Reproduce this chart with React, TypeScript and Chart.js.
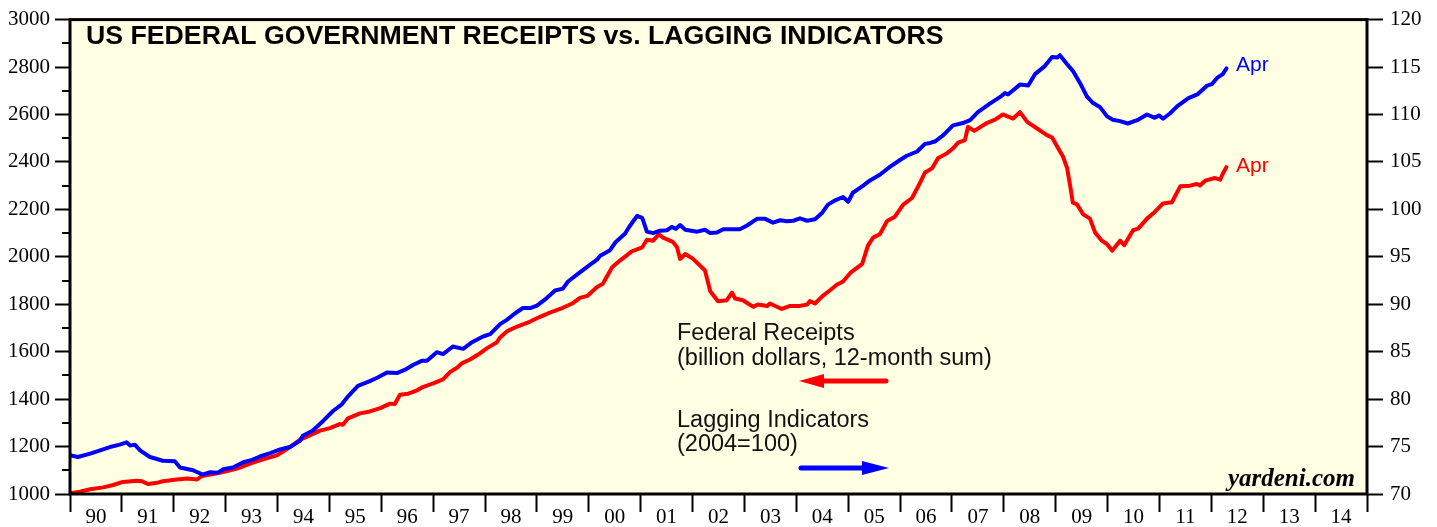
import React, { useEffect, useRef } from "react";
import { Chart, registerables } from "chart.js";

Chart.register(...registerables);

const yearLabels = ["90", "91", "92", "93", "94", "95", "96", "97", "98", "99", "00", "01", "02", "03", "04", "05", "06", "07", "08", "09", "10", "11", "12", "13", "14"];

// Federal receipts (billion dollars, 12-month sum), left axis
const receiptsYears = [
  1990.00, 1990.19, 1990.39, 1990.64, 1990.83, 1991.02, 1991.29, 1991.39, 1991.50, 1991.68,
  1991.79, 1992.06, 1992.26, 1992.45, 1992.54, 1992.76, 1992.95, 1993.22, 1993.47, 1993.72,
  1993.99, 1994.24, 1994.43, 1994.82, 1995.01, 1995.20, 1995.26, 1995.36, 1995.59, 1995.78,
  1995.98, 1996.17, 1996.26, 1996.36, 1996.52, 1996.69, 1996.80, 1997.00, 1997.19, 1997.33,
  1997.46, 1997.56, 1997.71, 1997.86, 1998.04, 1998.23, 1998.29, 1998.42, 1998.48, 1998.62,
  1998.87, 1999.06, 1999.25, 1999.50, 1999.68, 1999.83, 1999.97, 2000.16, 2000.27, 2000.45,
  2000.60, 2000.83, 2001.03, 2001.12, 2001.24, 2001.35, 2001.43, 2001.62, 2001.70, 2001.76,
  2001.86, 2002.01, 2002.24, 2002.34, 2002.49, 2002.66, 2002.76, 2002.82, 2002.97, 2003.17,
  2003.26, 2003.44, 2003.49, 2003.72, 2003.88, 2004.07, 2004.21, 2004.26, 2004.36, 2004.51,
  2004.65, 2004.78, 2004.90, 2005.04, 2005.27, 2005.38, 2005.48, 2005.61, 2005.75, 2005.90,
  2006.06, 2006.23, 2006.38, 2006.48, 2006.52, 2006.62, 2006.73, 2006.90, 2007.02, 2007.12,
  2007.25, 2007.31, 2007.43, 2007.68, 2007.83, 2007.98, 2008.18, 2008.31, 2008.45, 2008.64,
  2008.83, 2008.93, 2009.03, 2009.14, 2009.22, 2009.28, 2009.33, 2009.41, 2009.53, 2009.66,
  2009.76, 2009.89, 2009.99, 2010.09, 2010.24, 2010.32, 2010.49, 2010.59, 2010.76, 2010.91,
  2011.07, 2011.24, 2011.40, 2011.59, 2011.72, 2011.78, 2011.88, 2012.07, 2012.17, 2012.22,
  2012.29,
];
const receiptsValues = [
  1003, 1010, 1020, 1028, 1038, 1051, 1056, 1054, 1042, 1047,
  1054, 1061, 1065, 1061, 1076, 1084, 1093, 1107, 1128, 1146,
  1163, 1198, 1228, 1267, 1278, 1295, 1292, 1319, 1340, 1348,
  1362, 1381, 1379, 1418, 1423, 1437, 1451, 1466, 1483, 1515,
  1532, 1552, 1567, 1587, 1615, 1640, 1660, 1685, 1692, 1706,
  1727, 1747, 1765, 1785, 1803, 1827, 1835, 1873, 1886, 1956,
  1984, 2023, 2040, 2072, 2068, 2095, 2081, 2063, 2040, 1991,
  2012, 1991, 1942, 1855, 1813, 1817, 1849, 1824, 1817, 1789,
  1799, 1793, 1803, 1780, 1793, 1793, 1799, 1813, 1803, 1835,
  1859, 1882, 1896, 1932, 1970, 2047, 2081, 2095, 2151, 2169,
  2220, 2248, 2310, 2356, 2360, 2374, 2415, 2436, 2457, 2481,
  2492, 2548, 2531, 2565, 2578, 2600, 2583, 2610, 2569, 2541,
  2513, 2503, 2464, 2423, 2374, 2297, 2228, 2221, 2179, 2161,
  2102, 2068, 2053, 2026, 2068, 2049, 2112, 2119, 2161, 2189,
  2225, 2230, 2297, 2300, 2307, 2301, 2321, 2332, 2325, 2350,
  2378,
];

// Lagging indicators (2004=100), right axis
const laggingYears = [
  1990.00, 1990.15, 1990.39, 1990.58, 1990.77, 1990.96, 1991.09, 1991.16, 1991.25, 1991.35,
  1991.54, 1991.79, 1992.02, 1992.12, 1992.37, 1992.56, 1992.70, 1992.85, 1992.95, 1993.14,
  1993.34, 1993.51, 1993.66, 1993.86, 1994.05, 1994.24, 1994.43, 1994.49, 1994.68, 1994.88,
  1995.07, 1995.24, 1995.36, 1995.55, 1995.78, 1995.94, 1996.11, 1996.30, 1996.46, 1996.61,
  1996.79, 1996.88, 1997.07, 1997.19, 1997.38, 1997.58, 1997.75, 1997.96, 1998.10, 1998.29,
  1998.42, 1998.58, 1998.73, 1998.87, 1999.00, 1999.19, 1999.35, 1999.50, 1999.60, 1999.79,
  2000.02, 2000.16, 2000.22, 2000.41, 2000.51, 2000.70, 2000.79, 2000.93, 2001.03, 2001.12,
  2001.24, 2001.37, 2001.51, 2001.60, 2001.68, 2001.76, 2001.86, 2002.09, 2002.24, 2002.34,
  2002.47, 2002.59, 2002.91, 2003.05, 2003.24, 2003.40, 2003.55, 2003.69, 2003.82, 2003.94,
  2004.07, 2004.21, 2004.36, 2004.50, 2004.61, 2004.75, 2004.90, 2005.00, 2005.09, 2005.29,
  2005.42, 2005.61, 2005.81, 2006.00, 2006.13, 2006.33, 2006.48, 2006.58, 2006.67, 2006.83,
  2007.02, 2007.21, 2007.35, 2007.50, 2007.73, 2007.93, 2008.02, 2008.08, 2008.31, 2008.47,
  2008.60, 2008.79, 2008.93, 2009.03, 2009.08, 2009.22, 2009.33, 2009.47, 2009.60, 2009.72,
  2009.85, 2009.99, 2010.10, 2010.24, 2010.39, 2010.57, 2010.76, 2010.91, 2010.99, 2011.07,
  2011.20, 2011.34, 2011.55, 2011.74, 2011.92, 2012.01, 2012.11, 2012.22, 2012.29,
];
const laggingValues = [
  74.1, 73.9, 74.25, 74.6, 74.95, 75.2, 75.45, 75.1, 75.2, 74.6,
  73.9, 73.5, 73.45, 72.8, 72.5, 72.05, 72.3, 72.25, 72.6, 72.8,
  73.35, 73.6, 73.95, 74.3, 74.7, 74.95, 75.6, 76.15, 76.7, 77.7,
  78.75, 79.45, 80.3, 81.4, 81.9, 82.3, 82.8, 82.75, 83.1, 83.6,
  84.05, 84.05, 84.95, 84.75, 85.55, 85.3, 86.0, 86.6, 86.85, 87.9,
  88.35, 89.05, 89.6, 89.6, 89.85, 90.65, 91.45, 91.65, 92.4, 93.2,
  94.15, 94.7, 95.1, 95.7, 96.5, 97.45, 98.25, 99.3, 99.1, 97.65,
  97.5, 97.75, 97.8, 98.15, 97.95, 98.35, 97.85, 97.65, 97.85, 97.5,
  97.55, 97.9, 97.9, 98.3, 99.0, 99.0, 98.6, 98.85, 98.75, 98.8,
  99.05, 98.8, 98.95, 99.65, 100.5, 100.95, 101.3, 100.8, 101.75, 102.5,
  103.05, 103.65, 104.5, 105.2, 105.65, 106.1, 106.9, 107.0, 107.15, 107.8,
  108.85, 109.1, 109.4, 110.25, 111.15, 111.85, 112.25, 112.1, 113.15, 113.05,
  114.25, 115.1, 116.05, 116.0, 116.25, 115.3, 114.6, 113.3, 111.9, 111.2,
  110.8, 109.8, 109.45, 109.3, 109.05, 109.4, 110.0, 109.65, 109.9, 109.55,
  110.1, 110.85, 111.7, 112.15, 113.05, 113.2, 113.85, 114.25, 114.85,
];

const SERIF = '"Liberation Serif", "Times New Roman", serif';
const SANS = '"Liberation Sans", Arial, Helvetica, sans-serif';

export default function App() {
  const ref = useRef<HTMLCanvasElement>(null);

  useEffect(() => {
    document.body.style.margin = "0";
    document.body.style.overflow = "hidden";
    if (!ref.current) return;

    const decor = {
      id: "decor",
      beforeDraw(chart: any) {
        const { ctx, chartArea: a } = chart;
        ctx.save();
        ctx.fillStyle = "#FFFFE3";
        ctx.fillRect(a.left, a.top, a.right - a.left, a.bottom - a.top);
        ctx.restore();
      },
      afterDraw(chart: any) {
        const { ctx, chartArea: a } = chart;
        const yl = chart.scales.y;
        ctx.save();
        // minor ticks on the left axis
        ctx.strokeStyle = "#000";
        ctx.lineWidth = 2;
        for (let v = 1100; v < 3000; v += 200) {
          const py = Math.round(yl.getPixelForValue(v));
          ctx.beginPath();
          ctx.moveTo(a.left - 8, py);
          ctx.lineTo(a.left, py);
          ctx.stroke();
        }
        // frame
        ctx.lineWidth = 3;
        ctx.strokeRect(a.left, a.top, a.right - a.left, a.bottom - a.top);

        // title
        ctx.fillStyle = "#000";
        ctx.textBaseline = "alphabetic";
        ctx.textAlign = "left";
        ctx.font = `bold 26.7px ${SANS}`;
        ctx.fillText("US FEDERAL GOVERNMENT RECEIPTS vs. LAGGING INDICATORS", 86, 44);

        // annotations
        ctx.fillStyle = "#111";
        ctx.font = `23.5px ${SANS}`;
        ctx.fillText("Federal Receipts", 677, 340);
        ctx.fillText("(billion dollars, 12-month sum)", 677, 365);
        ctx.fillText("Lagging Indicators", 677, 427);
        ctx.fillText("(2004=100)", 677, 451);

        // red arrow (left)
        ctx.strokeStyle = "#FF0000";
        ctx.fillStyle = "#FF0000";
        ctx.lineWidth = 5;
        ctx.lineCap = "round";
        ctx.beginPath();
        ctx.moveTo(886, 381);
        ctx.lineTo(815, 381);
        ctx.stroke();
        ctx.beginPath();
        ctx.moveTo(799, 381);
        ctx.lineTo(824, 374);
        ctx.lineTo(824, 388);
        ctx.closePath();
        ctx.fill();

        // blue arrow (right)
        ctx.strokeStyle = "#0000FF";
        ctx.fillStyle = "#0000FF";
        ctx.beginPath();
        ctx.moveTo(801, 468);
        ctx.lineTo(870, 468);
        ctx.stroke();
        ctx.beginPath();
        ctx.moveTo(889, 468);
        ctx.lineTo(862, 461);
        ctx.lineTo(862, 475);
        ctx.closePath();
        ctx.fill();

        // Apr labels
        ctx.font = `21px ${SANS}`;
        ctx.fillStyle = "#0000FF";
        ctx.fillText("Apr", 1236, 71);
        ctx.fillStyle = "#FF0000";
        ctx.fillText("Apr", 1236, 172);

        // source
        ctx.fillStyle = "#000";
        ctx.textAlign = "right";
        ctx.font = `bold italic 25px ${SERIF}`;
        ctx.fillText("yardeni.com", 1355, 486);
        ctx.restore();
      },
    };

    const tickFont = { family: SERIF, size: 21 };

    const chart = new Chart(ref.current, {
      type: "line",
      data: {
        datasets: [
          {
            label: "Lagging Indicators",
            data: laggingYears.map((x, i) => ({ x, y: laggingValues[i] })),
            xAxisID: "x",
            yAxisID: "y2",
            borderColor: "#0000FF",
            borderWidth: 4,
            pointRadius: 0,
            tension: 0,
            borderJoinStyle: "round",
            borderCapStyle: "round",
          },
          {
            label: "Federal Receipts",
            data: receiptsYears.map((x, i) => ({ x, y: receiptsValues[i] })),
            xAxisID: "x",
            yAxisID: "y",
            borderColor: "#FF0000",
            borderWidth: 4,
            pointRadius: 0,
            tension: 0,
            borderJoinStyle: "round",
            borderCapStyle: "round",
          },
        ],
      },
      options: {
        animation: false,
        responsive: true,
        maintainAspectRatio: false,
        layout: { padding: { top: 15, left: 0, right: 0, bottom: 0 } },
        plugins: { legend: { display: false }, tooltip: { enabled: false }, title: { display: false } },
        scales: {
          x: { type: "linear", min: 1990, max: 2015, display: false },
          xcat: {
            type: "category",
            labels: yearLabels,
            position: "bottom",
            offset: true,
            grid: { offset: true, drawOnChartArea: false, tickLength: 18, tickColor: "#000", tickWidth: 2 },
            border: { display: false },
            ticks: { padding: -7, font: tickFont, color: "#000", maxRotation: 0, autoSkip: false },
            afterFit: (s: any) => { s.height = 33; },
          },
          y: {
            type: "linear",
            position: "left",
            min: 1000,
            max: 3000,
            ticks: { stepSize: 200, font: tickFont, color: "#000", padding: 5, callback: (v: any) => String(v) },
            grid: { drawOnChartArea: false, tickLength: 15, tickColor: "#000", tickWidth: 2 },
            border: { display: false },
            afterFit: (s: any) => { s.width = 70; },
          },
          y2: {
            type: "linear",
            position: "right",
            min: 70,
            max: 120,
            ticks: { stepSize: 5, font: tickFont, color: "#000", padding: 7, callback: (v: any) => String(v) },
            grid: { drawOnChartArea: false, tickLength: 16, tickColor: "#000", tickWidth: 2 },
            border: { display: false },
            afterFit: (s: any) => { s.width = 70; },
          },
        },
      },
      plugins: [decor],
    } as any);

    return () => chart.destroy();
  }, []);

  return (
    <div style={{ width: 1437, height: 527, position: "relative" }}>
      <canvas ref={ref} />
    </div>
  );
}
